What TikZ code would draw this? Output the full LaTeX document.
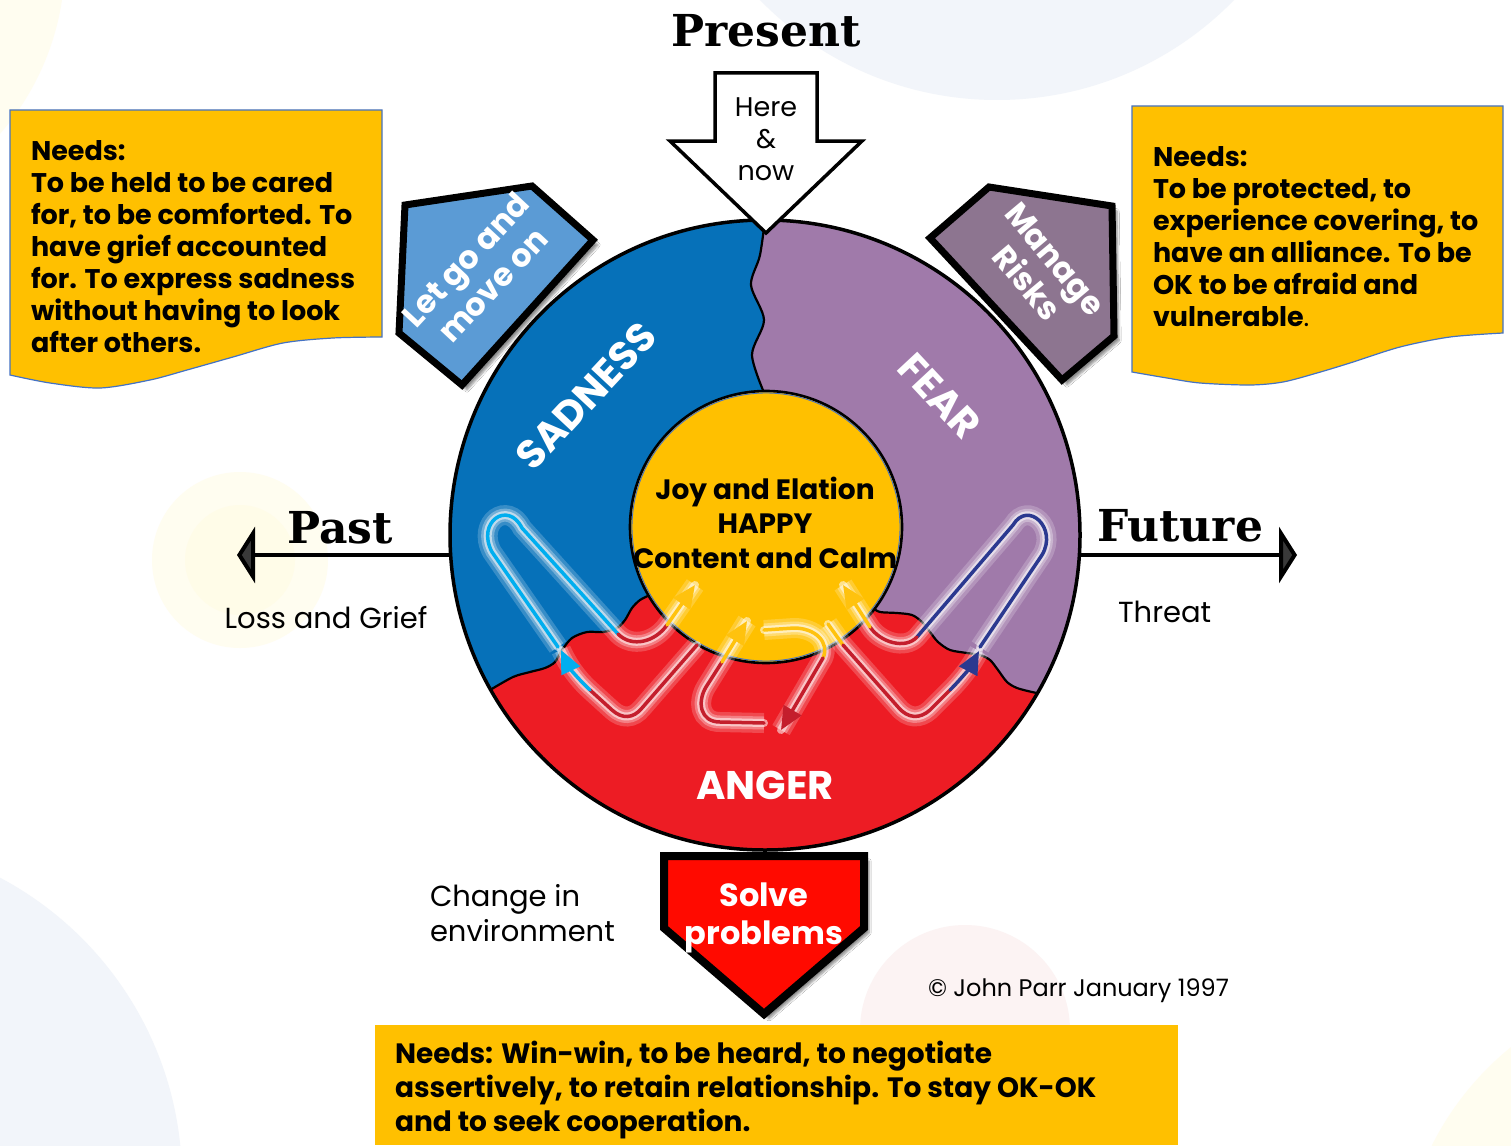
\documentclass[tikz,border=0pt]{standalone}
\usepackage{fontspec}
\setmainfont{Poppins}
\newfontfamily\slab{DejaVu Serif}
\usetikzlibrary{arrows.meta,shadows.blur}

\definecolor{needY}{HTML}{FFC000}
\definecolor{sadB}{HTML}{0671B9}
\definecolor{fearP}{HTML}{A07AAA}
\definecolor{angR}{HTML}{ED1C24}
\definecolor{letB}{HTML}{5B9BD5}
\definecolor{riskP}{HTML}{8D7590}
\definecolor{solveR}{HTML}{FF0A00}
\definecolor{edgeB}{HTML}{4472C4}
\definecolor{neonC}{HTML}{00AEEF}
\definecolor{neonR}{HTML}{C41E2C}
\definecolor{neonY}{HTML}{FFC20E}
\definecolor{neonD}{HTML}{2B3990}
\definecolor{bgBlue}{HTML}{F2F5FA}
\definecolor{bgYel}{HTML}{FFFDF0}
\definecolor{bgYelB}{HTML}{FFFCE8}
\definecolor{bgPink}{HTML}{FCF3F3}

\newcommand\fsz[2]{\fontsize{#1}{#2}\selectfont}

\tikzset{
  lbl/.style={inner sep=0pt, outer sep=0pt},
  needtxt/.style={lbl, anchor=north west, align=left, font=\fsz{27}{32}\bfseries},
  ringtxt/.style={lbl, text=white, font=\fsz{40}{44}\bfseries},
  joytxt/.style={lbl, anchor=base, font=\fsz{28}{34}\bfseries},
  plain/.style={lbl, font=\fsz{29}{35}},
  slabtxt/.style={lbl, anchor=base, font=\slab\bfseries\fsz{44}{48}},
  badge/.style={line width=7pt, line join=miter,
    blur shadow={shadow xshift=5pt, shadow yshift=-5pt, shadow blur steps=6, shadow opacity=45}},
  badgetxt/.style={lbl, text=white, align=center, font=\fsz{32}{37}\bfseries},
  needbox/.style={fill=needY, draw=edgeB, line width=1.2pt},
  glow/.style={draw=white, line cap=round, line join=round, line width=8pt, opacity=0.55,
    preaction={draw=white, line width=20pt, opacity=0.2},
    preaction={draw=white, line width=13pt, opacity=0.3}},
  neon/.style={line width=3.5pt, line cap=round, line join=round},
  neontip/.style={-{Triangle[length=23pt,width=20pt]}},
  axis/.style={line width=4pt, -{Triangle[length=18pt,width=56pt]}}
}

\begin{document}
\begin{tikzpicture}[x=1pt,y=-1pt]
\useasboundingbox (0,0) rectangle (1511,1145);
\fill[white] (0,0) rectangle (1511,1145);

% soft background discs
\begin{scope}
  \clip (0,0) rectangle (1511,1145);
  \fill[bgBlue] (997,-231) circle[radius=331pt];
  \fill[bgYel] (-200,-40) circle[radius=265pt];
  \fill[bgBlue] (-160,1180) circle[radius=342pt];
  \fill[bgYel] (1700,1280) circle[radius=300pt];
  \fill[bgPink] (965,1030) circle[radius=105pt];
  \fill[bgYel] (240,560) circle[radius=88pt];
  \fill[bgYelB] (240,560) circle[radius=55pt];
\end{scope}

% needs boxes
\draw[needbox] (10,110) -- (382,110) -- (382,337)
  -- plot[smooth] coordinates {(382,337) (333,338) (283,343) (233,357) (187,370) (150,380) (100,388) (50,383) (10,375)} -- cycle;
\draw[needbox] (1132,106) -- (1503,106) -- (1503,333)
  -- plot[smooth] coordinates {(1503,333) (1450,337) (1400,347) (1350,363) (1317,373) (1283,382) (1250,385) (1200,383) (1167,378) (1132,372)} -- cycle;
\fill[needY] (375,1025) rectangle (1178,1145);

\node[needtxt] (needSad) at (31,141) {Needs:\\To be held to be cared\\for, to be comforted. To\\have grief accounted\\for. To express sadness\\without having to look\\after others.};
\node[needtxt] (needFear) at (1153,147) {Needs:\\To be protected, to\\experience covering, to\\have an alliance. To be\\OK to be afraid and\\vulnerable{\mdseries.}};
\node[needtxt, font=\fsz{28}{34}\bfseries] (needAnger) at (395,1041) {Needs: Win-win, to be heard, to negotiate\\assertively, to retain relationship. To stay OK-OK\\and to seek cooperation.};

% emotion ring
\begin{scope}
  \clip (765,535) circle[radius=315pt];
  \fill[fearP] (440,200) rectangle (1090,870);
  \fill[sadB] (430,200) -- (766,200)
    -- plot[smooth] coordinates {(766,212) (760,255) (751,285) (764,320) (752,355) (765,395)}
    -- (766,720) -- (430,720) -- cycle;
  \fill[angR] (430,697)
    -- plot[smooth] coordinates {(490,690) (513,677) (530,672) (545,668) (555,662) (562,650) (572,638) (587,632) (603,632) (617,628) (625,620) (632,608) (640,600) (650,595)}
    -- (766,600)
    -- plot[smooth] coordinates {(873,608) (880,612) (897,613) (912,615) (922,622) (930,632) (938,642) (950,650) (967,653) (980,655) (990,660) (998,670) (1007,682) (1017,688) (1032,692) (1042,694)}
    -- (1100,694) -- (1100,900) -- (430,900) -- cycle;
  \draw[line width=2.2pt] plot[smooth] coordinates {(766,212) (760,255) (751,285) (764,320) (752,355) (765,395)};
  \draw[line width=2.2pt] plot[smooth] coordinates {(490,690) (513,677) (530,672) (545,668) (555,662) (562,650) (572,638) (587,632) (603,632) (617,628) (625,620) (632,608) (640,600) (650,595)};
  \draw[line width=2.2pt] plot[smooth] coordinates {(873,608) (880,612) (897,613) (912,615) (922,622) (930,632) (938,642) (950,650) (967,653) (980,655) (990,660) (998,670) (1007,682) (1017,688) (1032,692) (1042,694)};
\end{scope}
\node[circle, draw, line width=3.5pt, minimum size=630pt, lbl] (ring) at (765,535) {};
\fill[needY] (766,527) circle[radius=136pt];
\draw[line width=2.6pt] (766,527) circle[radius=136pt];
\draw[edgeB, line width=0.9pt] (766,527) circle[radius=134pt];

% neon cycle paths: glows first (running out to the arrow tips)
\draw[glow] (558,647) -- (492,552) .. controls (476,522) and (508,500) .. (522,528) -- (618,634) .. controls (632,648) and (655,642) .. (667,625) -- (695,585);
\draw[glow] (697,645) -- (642,708) .. controls (633,719) and (622,719) .. (612,710) -- (590,690) .. controls (578,679) and (569,667) .. (561,650);
\draw[glow] (764,723) -- (720,722) .. controls (700,722) and (697,702) .. (706,687) -- (747,621);
\draw[glow] (764,630) -- (794,628) .. controls (815,628) and (830,642) .. (823,658) -- (781,730);
\draw[glow] (828,624) -- (843,645) -- (898,707) .. controls (908,719) and (920,719) .. (930,710) -- (950,690) .. controls (962,678) and (971,666) .. (979,651);
\draw[glow] (980,647) -- (1042,555) .. controls (1058,528) and (1028,500) .. (1013,525) -- (917,637) .. controls (905,650) and (880,642) .. (870,627) -- (843,585);

% neon cycle paths: coloured strokes
\draw[neon, neonC] (558,647) -- (492,552) .. controls (476,522) and (508,500) .. (522,528) -- (618,634);
\draw[neon, neonR] (618,634) .. controls (632,648) and (655,642) .. (667,625);
\draw[neon, neonY, neontip] (667,625) -- (695,585);

\draw[neon, neonR] (697,645) -- (642,708) .. controls (633,719) and (622,719) .. (612,710) -- (590,690);
\draw[neon, neonC, neontip] (590,690) .. controls (578,679) and (569,667) .. (561,650);

\draw[neon, neonR] (764,723) -- (720,722) .. controls (700,722) and (697,702) .. (706,687) -- (722,662);
\draw[neon, neonY, neontip] (722,662) -- (747,621);

\draw[neon, neonY] (764,630) -- (794,628) .. controls (815,628) and (830,642) .. (823,658);
\draw[neon, neonR, neontip] (823,658) -- (781,730);

\draw[neon, neonY] (828,624) -- (843,645);
\draw[neon, neonR] (843,645) -- (898,707) .. controls (908,719) and (920,719) .. (930,710) -- (950,690);
\draw[neon, neonD, neontip] (950,690) .. controls (962,678) and (971,666) .. (979,651);

\draw[neon, neonD] (980,647) -- (1042,555) .. controls (1058,528) and (1028,500) .. (1013,525) -- (917,637);
\draw[neon, neonR] (917,637) .. controls (905,650) and (880,642) .. (870,627);
\draw[neon, neonY, neontip] (870,627) -- (843,585);

% ring labels
\node[ringtxt, rotate=47] (sadness) at (586,396) {SADNESS};
\node[ringtxt, rotate=-47] (fear) at (940,396) {FEAR};
\node[ringtxt, anchor=base] (anger) at (765,799) {ANGER};
\node[joytxt] (joy1) at (765,499) {Joy and Elation};
\node[joytxt] (joy2) at (765,533) {HAPPY};
\node[joytxt] (joy3) at (765,568) {Content and Calm};

% badges round the ring
\draw[badge, fill=letB] (405,205) -- (532,186) -- (593,240) -- (462,385) -- (399,333) -- cycle;
\node[badgetxt, rotate=47] (letgo) at (479,272) {Let go and\\move on};
\draw[badge, fill=riskP] (989,187) -- (1112,206) -- (1114,336) -- (1062,380) -- (930,238) -- cycle;
\node[badgetxt, rotate=-50] (risks) at (1041,271) {Manage\\Risks};
\draw[badge, line width=8pt, fill=solveR] (664,856) -- (864,856) -- (864,928) -- (764,1014) -- (664,928) -- cycle;
\node[badgetxt, font=\fsz{32}{38}\bfseries] (solve) at (764,918) {Solve\\problems};

% present arrow
\draw[fill=white, line width=3.5pt, line join=miter] (715,73) -- (817,73) -- (817,141) -- (862,141) -- (766,233) -- (670,141) -- (715,141) -- cycle;
\node[plain, align=center, font=\fsz{27}{32}] (herenow) at (766,139) {Here\\\&\\now};
\node[slabtxt] (present) at (766,47) {Present};

% time axis
\coordinate (pastStart) at (451,555);
\coordinate (pastTip) at (237,555);
\coordinate (futStart) at (1079,555);
\coordinate (futTip) at (1297,555);
\draw[axis] (pastStart) -- (pastTip);
\draw[axis] (futStart) -- (futTip);
\node[slabtxt] (past) at (340,543) {Past};
\node[slabtxt] (future) at (1180,541) {Future};
\node[plain, anchor=base] (loss) at (326,628) {Loss and Grief};
\node[plain, anchor=base west] (threat) at (1118,622) {Threat};
\node[plain, anchor=north west, align=left] (change) at (430,884) {Change in\\environment};
\node[lbl, anchor=base west, font=\fsz{24}{28}] (copy) at (928,996) {© John Parr January 1997};
\end{tikzpicture}
\end{document}
